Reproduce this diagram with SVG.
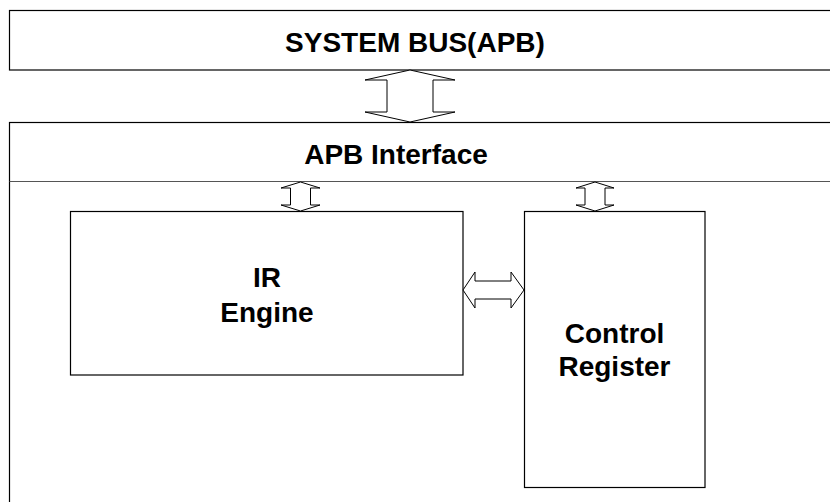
<svg xmlns="http://www.w3.org/2000/svg" width="830" height="502" viewBox="0 0 830 502">
  <style>
    .box { fill: #fff; stroke: #000; stroke-width: 1.2; }
    .sep { stroke: #555; stroke-width: 1.2; fill: none; }
    .arrow { fill: #fff; stroke: #000; stroke-width: 1; stroke-linejoin: miter; }
    .lbl { font-family: "Liberation Sans", Arial, sans-serif; font-weight: bold; font-size: 28px; fill: #000; text-anchor: middle; }
  </style>
  <rect x="0" y="0" width="830" height="502" fill="#fff"/>
  <g id="system-bus">
    <rect class="box" x="9.5" y="10.5" width="900" height="59.5"/>
    <text class="lbl" x="415" y="52">SYSTEM BUS(APB)</text>
  </g>
  <g id="apb-interface">
    <rect class="box" x="9.5" y="122.5" width="900" height="500"/>
    <line class="sep" x1="9.5" y1="181.5" x2="830" y2="181.5"/>
    <text class="lbl" x="396" y="164">APB Interface</text>
  </g>
  <g id="ir-engine">
    <rect class="box" x="70.5" y="211.5" width="392.5" height="163.5"/>
    <text class="lbl" x="267" y="287">IR</text>
    <text class="lbl" x="267" y="322">Engine</text>
  </g>
  <g id="control-register">
    <rect class="box" x="524.5" y="211.5" width="180.5" height="276"/>
    <text class="lbl" x="614.5" y="343">Control</text>
    <text class="lbl" x="614.5" y="376">Register</text>
  </g>
  <g id="connectors">
    <polygon class="arrow" points="410,70 455,80 433,80 433,112 455,112 410,122 365,112 387,112 387,80 365,80"/>
    <polygon class="arrow" points="300.5,182 320,188 310.5,188 310.5,205 320,205 300.5,211 281,205 290.5,205 290.5,188 281,188"/>
    <polygon class="arrow" points="595,182 614,188 605,188 605,205 614,205 595,211 576,205 585,205 585,188 576,188"/>
    <polygon class="arrow" points="463,290 475,272 475,281 511,281 511,272 524,290 511,308 511,299 475,299 475,308"/>
  </g>
</svg>
